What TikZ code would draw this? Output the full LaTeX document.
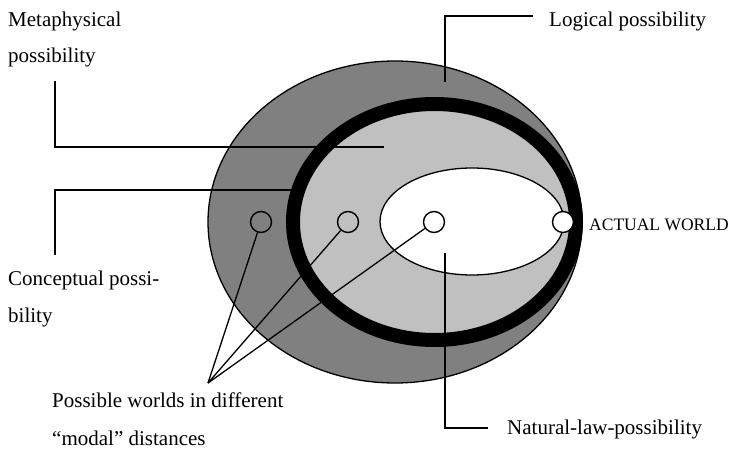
\documentclass[tikz,border=0pt]{standalone}
\usepackage{fontspec}
\setmainfont{Liberation Serif}
\definecolor{darkgr}{RGB}{128,128,128}
\definecolor{lightgr}{RGB}{192,192,192}
\tikzset{
  thin line/.style={line width=1.3pt, black},
  lbl/.style={anchor=base west, inner sep=0pt, font=\fontsize{21}{25}\selectfont},
  world/.style={circle, draw, line width=1.4pt, minimum size=21pt, inner sep=0pt},
}
\begin{document}
\begin{tikzpicture}[x=1pt, y=-1pt]
\useasboundingbox (0,0) rectangle (734,454);
% regions
\draw[thin line, fill=darkgr] (395,222) ellipse [x radius=187, y radius=161];
\draw[line width=14pt, fill=lightgr] (434.5,222) ellipse [x radius=141.5, y radius=118];
\draw[thin line, fill=white] (472,221.5) ellipse [x radius=92, y radius=53.5];
% worlds
\node[world] (w1) at (261,222) {};
\node[world] (w2) at (348,222) {};
\node[world] (w3) at (434,222) {};
\node[world, fill=white] (w4) at (563,222) {};
% labels
\node[lbl] (meta1) at (8,27) {Metaphysical};
\node[lbl] (meta2) at (8,63) {possibility};
\node[lbl] (logic) at (549,27) {Logical possibility};
\node[lbl] (conc1) at (8,286) {Conceptual possi-};
\node[lbl] (conc2) at (8,323) {bility};
\node[lbl] (pw1) at (52,407) {Possible worlds in different};
\node[lbl] (pw2) at (52,445) {“modal” distances};
\node[lbl] (nat) at (507,435) {Natural-law-possibility};
\node[anchor=base west, inner sep=0pt, font=\fontsize{17.5}{20}\selectfont] (act) at (589,231) {ACTUAL WORLD};
% leader lines
\coordinate (m0) at (55,81);
\coordinate (m1) at (384,147);
\draw[thin line] (m0) |- (m1);
\coordinate (c0) at (55,255);
\coordinate (c1) at (294,190);
\draw[thin line] (c0) |- (c1);
\coordinate (l0) at (445,82);
\coordinate (l1) at (533,16);
\draw[thin line] (l0) |- (l1);
\coordinate (n0) at (445,253);
\coordinate (n1) at (488,428);
\draw[thin line] (n0) |- (n1);
\coordinate (apex) at (208,383);
\draw[thin line] (apex) -- (w1);
\draw[thin line] (apex) -- (w2);
\draw[thin line] (apex) -- (w3);
\end{tikzpicture}
\end{document}
